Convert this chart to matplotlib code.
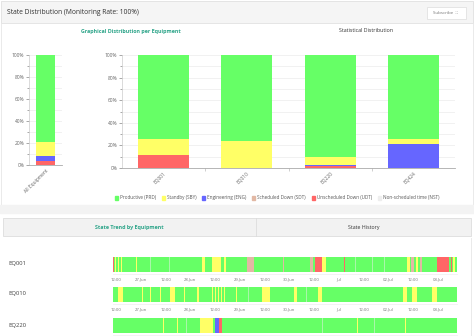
import matplotlib
matplotlib.use("Agg")
import matplotlib.pyplot as plt
from matplotlib.patches import Rectangle

plt.rcParams['font.family'] = ['Open Sans', 'DejaVu Sans']

W, H = 474, 336

# state colours
states = ['PRD', 'SBY', 'ENG', 'SDT', 'UDT', 'NST']
state_names = ['Productive (PRD)', 'Standby (SBY)', 'Engineering (ENG)',
               'Scheduled Down (SDT)', 'Unscheduled Down (UDT)', 'Non-scheduled time (NST)']
state_colors = {'PRD': '#66ff66', 'SBY': '#ffff66', 'ENG': '#6666ff',
                'SDT': '#e2b8a4', 'UDT': '#ff6666', 'NST': '#eeeeee'}

# stacked distribution (percent)
all_label = ['All Equipment']
all_udt = [3.5]
all_eng = [5.0]
all_sby = [12.7]
all_prd = [78.8]

equipment = ['EQ001', 'EQ010', 'EQ220', 'EQ424']
eq_udt = [11.2, 0.0, 1.4, 0.0]
eq_eng = [0.0, 0.0, 1.0, 21.5]
eq_sby = [14.7, 24.1, 7.3, 4.4]
eq_prd = [74.1, 75.9, 90.3, 74.1]

# state trend: hours from 26.Jun 12:00, (start, end, state) over a productive background
trend_range = (-1.5, 165.2)
trend_ticks = [0, 12, 24, 36, 48, 60, 72, 84, 96, 108, 120, 132, 144, 156]
trend_ticklabels = ['12:00', '27.Jun', '12:00', '28.Jun', '12:00', '29.Jun', '12:00',
                    '30.Jun', '12:00', 'Jul', '12:00', '02.Jul', '12:00', '03.Jul']
trend_eq = ['EQ001', 'EQ010', 'EQ220']
eq001_events = [(-1.5, -0.9, 'UDT'), (-0.7, 0.0, 'SBY'), (1.0, 1.3, 'SBY'), (2.4, 2.8, 'SBY'),
                (9.7, 10.3, 'SBY'), (16.4, 16.7, 'NST'), (25.6, 25.9, 'NST'), (41.7, 43.1, 'SBY'),
                (46.5, 50.9, 'SBY'), (52.3, 53.1, 'SBY'), (58.0, 58.3, 'NST'), (63.5, 66.6, 'SDT'),
                (75.0, 75.3, 'NST'), (80.8, 81.3, 'SDT'), (87.0, 87.4, 'SBY'), (94.0, 95.5, 'SDT'),
                (96.4, 99.8, 'UDT'), (99.8, 101.7, 'SBY'), (104.0, 104.3, 'NST'), (110.5, 111.1, 'UDT'),
                (116.0, 116.3, 'NST'), (124.0, 124.3, 'NST'), (130.0, 130.3, 'NST'),
                (136.4, 136.8, 'SBY'), (141.0, 142.4, 'SBY'), (142.9, 144.4, 'SDT'),
                (145.3, 146.3, 'SBY'), (147.3, 148.3, 'SDT'), (150.0, 150.3, 'NST'),
                (155.5, 161.3, 'UDT'), (162.3, 162.8, 'UDT'), (163.5, 164.2, 'SBY')]
eq010_events = [(1.0, 3.4, 'SBY'), (5.2, 5.5, 'SBY'), (12.6, 13.1, 'SBY'), (16.5, 17.0, 'SBY'),
                (21.3, 21.8, 'SBY'), (26.2, 28.6, 'SBY'), (32.9, 33.4, 'SBY'), (39.2, 40.2, 'SBY'),
                (46.5, 47.0, 'SBY'), (48.0, 48.4, 'SBY'), (49.4, 49.9, 'SBY'), (50.9, 51.3, 'SBY'),
                (52.3, 52.8, 'SBY'), (58.0, 58.4, 'SBY'), (64.0, 64.3, 'NST'), (70.7, 74.6, 'SBY'),
                (76.8, 77.2, 'SBY'), (86.2, 87.7, 'SBY'), (92.0, 92.3, 'NST'), (97.9, 99.8, 'SBY'),
                (108.3, 108.7, 'SBY'), (115.1, 115.5, 'SBY'), (121.0, 121.3, 'NST'),
                (126.7, 127.1, 'SBY'), (139.0, 141.0, 'SBY'), (143.4, 145.8, 'SBY'),
                (148.0, 148.3, 'NST'), (153.1, 155.5, 'SBY'), (158.2, 158.6, 'SBY'),
                (159.7, 160.1, 'SBY')]
eq220_events = [(17.7, 18.1, 'SBY'), (22.6, 23.0, 'SBY'), (29.4, 29.8, 'SBY'), (34.0, 34.3, 'NST'),
                (40.7, 47.0, 'SBY'), (48.0, 49.9, 'ENG'), (49.9, 51.4, 'UDT'), (52.6, 53.0, 'SBY'),
                (70.0, 70.3, 'NST'), (85.0, 85.3, 'NST'), (100.0, 100.3, 'NST'),
                (116.6, 117.0, 'SBY'), (125.0, 125.3, 'NST'), (140.0, 140.4, 'SBY'),
                (152.0, 152.3, 'NST')]
trend_events = [eq001_events, eq010_events, eq220_events]

fig = plt.figure(figsize=(W / 100, H / 100), dpi=100)


def px_axes(x0, y0, x1, y1, **kw):
    return fig.add_axes([x0 / W, 1 - y1 / H, (x1 - x0) / W, (y1 - y0) / H], **kw)


# page background and panels
bg = px_axes(0, 0, W, H)
bg.set_xlim(0, W)
bg.set_ylim(H, 0)
bg.axis('off')
bg.add_patch(Rectangle((0, 0), W, H, color='white'))
bg.add_patch(Rectangle((0.5, 0.5), W - 1, 22, facecolor='#f5f5f5', edgecolor='#e0e0e0', lw=0.6))
bg.add_patch(Rectangle((0.5, 22.5), W - 1, 182, facecolor='none', edgecolor='#e6e6e6', lw=0.6))
bg.add_patch(Rectangle((0, 205), W, 8, color='#f3f3f3'))
bg.add_patch(Rectangle((3, 218), W - 6, 18, facecolor='#f2f2f2', edgecolor='#dddddd', lw=0.6))
bg.plot([256, 256], [218, 236], color='#dddddd', lw=0.6)
bg.plot([471, 471], [238, H], color='#e6e6e6', lw=0.6)
bg.add_patch(Rectangle((427, 6.5), 39, 12, facecolor='white', edgecolor='#dddddd', lw=0.5))
bg.text(7, 13, 'State Distribution (Monitoring Rate: 100%)', fontsize=4.9, color='#333333', va='center')
bg.text(446, 12.8, 'Subscribe  \u2237', fontsize=3.2, color='#777777', va='center', ha='center')
bg.text(131, 31, 'Graphical Distribution per Equipment', fontsize=3.9, color='#2ea58a',
        fontweight='bold', ha='center', va='center')
bg.text(366, 31, 'Statistical Distribution', fontsize=3.8, color='#333333', ha='center', va='center')
bg.text(129, 227, 'State Trend by Equipment', fontsize=3.9, color='#2ea58a',
        fontweight='bold', ha='center', va='center')
bg.text(364, 227, 'State History', fontsize=3.8, color='#333333', ha='center', va='center')


def style_dist(ax):
    ax.set_ylim(0, 100)
    ax.set_yticks([0, 20, 40, 60, 80, 100])
    ax.set_yticklabels(['0%', '20%', '40%', '60%', '80%', '100%'])
    ax.set_yticks(range(10, 100, 20), minor=True)
    ax.grid(axis='y', which='both', color='#ebebeb', lw=0.5)
    ax.set_axisbelow(True)
    for s in ['top', 'right']:
        ax.spines[s].set_visible(False)
    ax.spines['left'].set_color('#cccccc')
    ax.spines['bottom'].set_color('#aaaaaa')
    ax.spines['left'].set_linewidth(0.5)
    ax.spines['bottom'].set_linewidth(0.6)
    ax.tick_params(axis='y', which='both', labelsize=3.5, colors='#666666', length=2, width=0.4,
                   pad=1.5)
    ax.tick_params(axis='y', which='minor', length=1.5)
    ax.tick_params(axis='x', labelsize=3.5, colors='#666666', length=0, pad=2)
    for lab in ax.get_yticklabels():
        lab.set_color('#666666')


def stack(ax, x, prd, sby, eng, udt, width):
    bottom = [0] * len(x)
    for vals, key in [(udt, 'UDT'), (eng, 'ENG'), (sby, 'SBY'), (prd, 'PRD')]:
        ax.bar(x, vals, width, bottom=bottom, color=state_colors[key], lw=0)
        bottom = [b + v for b, v in zip(bottom, vals)]


# all equipment
ax1 = px_axes(29, 55, 62, 165)
stack(ax1, [0], all_prd, all_sby, all_eng, all_udt, 0.6)
ax1.set_xlim(-0.5, 0.5)
style_dist(ax1)
ax1.set_xticks([0])
ax1.set_xticklabels(all_label, rotation=45, ha='right', va='top', rotation_mode='anchor')

# per equipment
ax2 = px_axes(122, 55, 455, 168)
xs = list(range(len(equipment)))
stack(ax2, xs, eq_prd, eq_sby, eq_eng, eq_udt, 0.61)
ax2.set_xlim(-0.5, len(equipment) - 0.5)
style_dist(ax2)
ax2.set_xticks(xs)
ax2.set_xticklabels(equipment, rotation=45, ha='right', va='top', rotation_mode='anchor')
ax2.set_xticks([0.5, 1.5, 2.5], minor=True)
ax2.tick_params(axis='x', which='minor', length=2, width=0.4, color='#aaaaaa')

# legend
handles = [Rectangle((0, 0), 1, 1, color=state_colors[s]) for s in states]
fig.legend(handles, state_names, loc='center', bbox_to_anchor=(277 / W, 1 - 198 / H), ncol=6,
           frameon=False, fontsize=3.3, handlelength=0.7, handleheight=0.7, handletextpad=0.4,
           columnspacing=1.25, labelcolor='#555555')

# state trend timelines
row_tops = [257, 287, 318]
for name, events, top in zip(trend_eq, trend_events, row_tops):
    ax = px_axes(113, top, 457, top + 14.5)
    ax.set_xlim(*trend_range)
    ax.set_ylim(0, 1)
    ax.broken_barh([(trend_range[0], trend_range[1] - trend_range[0])], (0, 1),
                   facecolors=state_colors['PRD'])
    for start, end, key in events:
        ax.broken_barh([(start, end - start)], (0, 1), facecolors=state_colors[key], lw=0,
                       alpha=0.5 if key == 'NST' else 1.0)
    for s in ax.spines.values():
        s.set_visible(False)
    ax.set_yticks([])
    if name != trend_eq[-1]:
        ax.set_xticks(trend_ticks)
        ax.set_xticklabels(trend_ticklabels)
        ax.tick_params(axis='x', labelsize=3.1, colors='#666666', length=0, pad=4.5)
        for lab in ax.get_xticklabels():
            lab.set_color('#777777')
    else:
        ax.set_xticks([])
    bg.text(8, top + 7, name, fontsize=4.2, color='#444444', va='center')
    bg.plot([113, 457], [top + 17, top + 17], color='#eeeeee', lw=0.5)

fig.savefig('out.png', dpi=100)
